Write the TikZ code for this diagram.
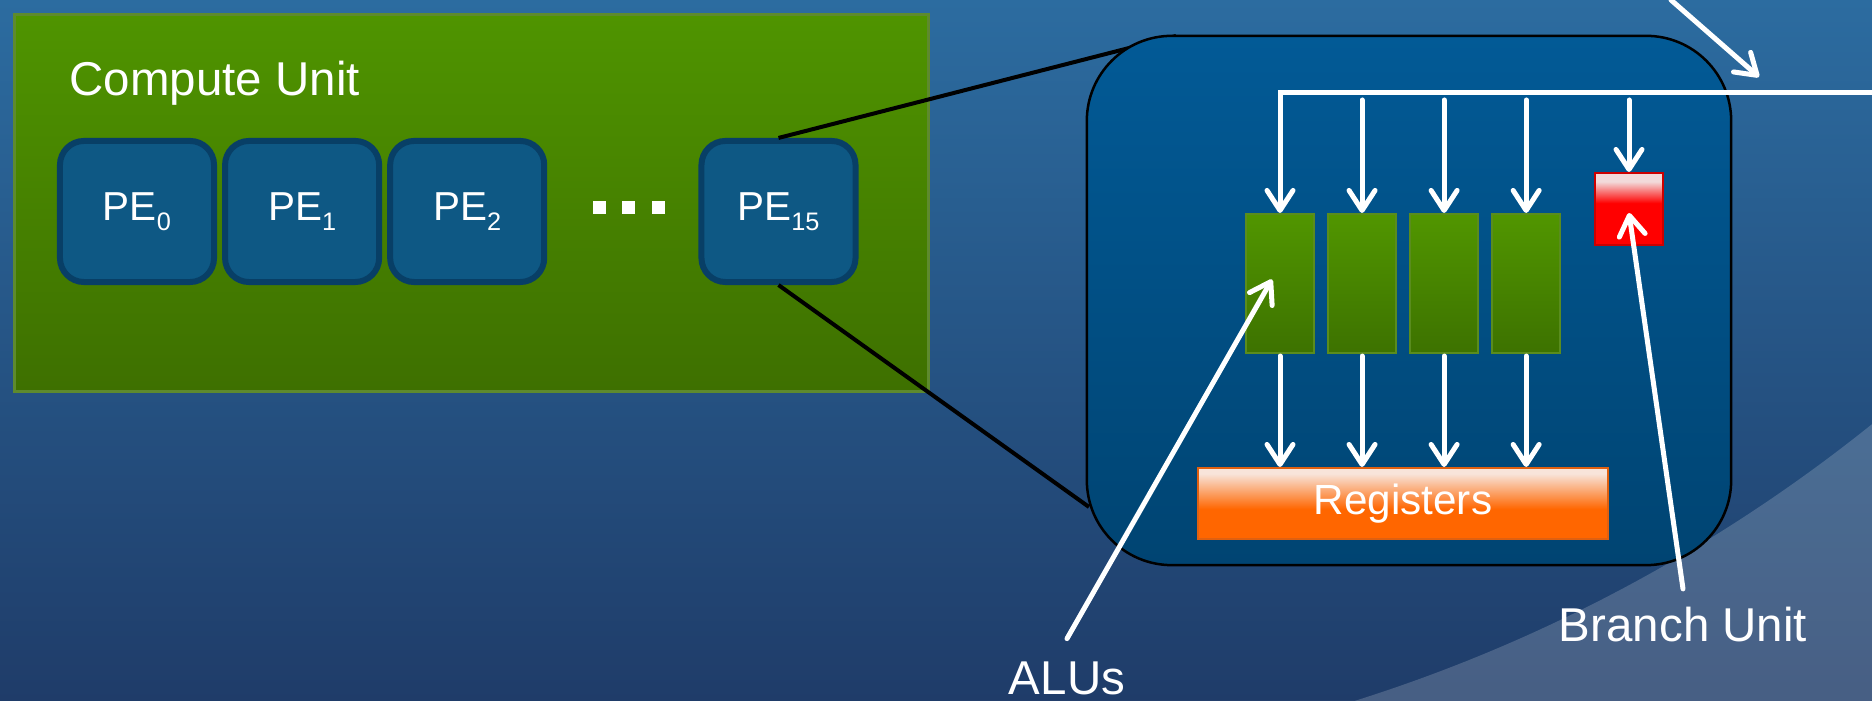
\documentclass[tikz,border=0pt]{standalone}
\usepackage{fontspec}
\setmainfont{Liberation Sans}
\usetikzlibrary{positioning,arrows.meta}

\definecolor{bgtop}{HTML}{2C6CA0}
\definecolor{bgbot}{HTML}{1F3C69}
\definecolor{cutop}{HTML}{4F9400}
\definecolor{cubot}{HTML}{3E7000}
\definecolor{cuedge}{HTML}{5E8A2E}
\definecolor{peblue}{HTML}{0E5884}
\definecolor{peedge}{HTML}{083F66}
\definecolor{detailtop}{HTML}{025A96}
\definecolor{detailbot}{HTML}{004472}
\definecolor{alutop}{HTML}{519600}
\definecolor{alubot}{HTML}{3D7200}
\definecolor{aluedge}{HTML}{5A8C1E}
\definecolor{regorange}{HTML}{FF6600}
\definecolor{regpale}{HTML}{F8E4DA}
\definecolor{regedge}{HTML}{E06010}
\definecolor{brred}{HTML}{FF0000}
\definecolor{brpale}{HTML}{F2DADA}

% pale strip on top, full colour below
\pgfdeclareverticalshading{regshade}{100bp}{color(0bp)=(regorange); color(46bp)=(regorange);
  color(71bp)=(regpale); color(100bp)=(regpale)}
\pgfdeclareverticalshading{brshade}{100bp}{color(0bp)=(brred); color(54bp)=(brred);
  color(69bp)=(brpale); color(100bp)=(brpale)}
\newcommand\pesub[1]{\raisebox{-2.8pt}{\fontsize{7.2}{8}\selectfont#1}}

\begin{document}
\begin{tikzpicture}[x=0.01cm,y=-0.01cm,
    lbl/.style={text=white,inner sep=0pt,font=\fontsize{13.5}{16}\selectfont},
    pe/.style={draw=peedge,line width=0.06cm,fill=peblue,rounded corners=0.24cm,
      minimum width=1.54cm,minimum height=1.41cm,text=white,font=\fontsize{11.5}{14}\selectfont},
    alu/.style={draw=aluedge,line width=0.02cm,top color=alutop,bottom color=alubot,
      minimum width=0.68cm,minimum height=1.39cm,inner sep=0pt},
    flow/.style={white,line width=0.05cm,line cap=round,-{Straight Barb[length=0.2cm,width=0.26cm,round]}},
    zoomline/.style={black,line width=0.04cm}]
  \useasboundingbox (0,0) rectangle (1872,701);
  % backdrop
  \shade[top color=bgtop,bottom color=bgbot] (0,0) rectangle (1872,701);
  \begin{scope}
    \clip (950,0) rectangle (1872,701);
    \fill[white,opacity=0.18,even odd rule] (0,0) rectangle (1872,701) (877,-816) circle [radius=15.89cm];
  \end{scope}

  % compute unit
  \node[draw=cuedge,line width=0.03cm,top color=cutop,bottom color=cubot,
    minimum width=9.13cm,minimum height=3.76cm] at (471.5,203) (cu) {};
  \node[lbl,anchor=base west] at (69,96) (cutitle) {Compute Unit};

  \node[pe] at (137,211.5) (pe0) {PE\pesub{0}};
  \node[pe,right=0.05cm of pe0] (pe1) {PE\pesub{1}};
  \node[pe,right=0.05cm of pe1] (pe2) {PE\pesub{2}};
  \node[pe] at (778.5,211.5) (pe15) {PE\pesub{15}};
  \foreach \x in {599.5,628,658}
    \fill[white] (\x-6.5,201.5) rectangle (\x+6.5,214.5);

  \coordinate (ztop) at (1176,36);
  \coordinate (zbot) at (1089,507);
  \draw[zoomline] (pe15.north) -- (ztop);
  \draw[zoomline] (pe15.south) -- (zbot);

  % one processing element
  \node[draw=black,line width=0.025cm,rounded corners=0.85cm,top color=detailtop,bottom color=detailbot,
    minimum width=6.44cm,minimum height=5.29cm] at (1409,300.5) (detail) {};
  \node[alu] at (1280,283.5) (alu1) {};
  \node[alu,right=0.12cm of alu1] (alu2) {};
  \node[alu,right=0.12cm of alu2] (alu3) {};
  \node[alu,right=0.12cm of alu3] (alu4) {};
  \node[draw=red!80!black,line width=0.02cm,shading=brshade,
    minimum width=0.68cm,minimum height=0.72cm,inner sep=0pt] at (1629,209) (branch) {};
  \node[draw=regedge,line width=0.02cm,shading=regshade,
    minimum width=4.1cm,minimum height=0.71cm,text=white,font=\fontsize{12}{14}\selectfont] at (1403,503.5) (regs) {Registers};

  \coordinate (feed) at (1872,93);
  \coordinate (feedlow) at (1872,100);
  \coordinate (cmd) at (1671,0);
  \coordinate (cmdend) at (1759,77);
  \draw[flow] (cmd) -- (cmdend);
  \draw[flow,line cap=butt] (feed) -- (feed -| alu1.north) -- (alu1.north);
  \draw[flow] (feedlow -| alu2.north) -- (alu2.north);
  \draw[flow] (feedlow -| alu3.north) -- (alu3.north);
  \draw[flow] (feedlow -| alu4.north) -- (alu4.north);
  \draw[flow] (feedlow -| branch.north) -- (branch.north);
  \draw[flow,shorten <=0.02cm] (alu1.south) -- (alu1.south |- regs.north);
  \draw[flow,shorten <=0.02cm] (alu2.south) -- (alu2.south |- regs.north);
  \draw[flow,shorten <=0.02cm] (alu3.south) -- (alu3.south |- regs.north);
  \draw[flow,shorten <=0.02cm] (alu4.south) -- (alu4.south |- regs.north);

  % callouts
  \node[lbl,anchor=base] at (1067,695) (alus) {ALUs};
  \node[lbl,anchor=base] at (1683,642) (brlbl) {Branch Unit};
  \draw[flow] ([yshift=0.23cm]alus.north) -- ([xshift=-0.08cm,yshift=0.04cm]alu1.center);
  \draw[flow] ([yshift=0.18cm]brlbl.north) -- ([yshift=-0.04cm]branch.center);
\end{tikzpicture}
\end{document}
